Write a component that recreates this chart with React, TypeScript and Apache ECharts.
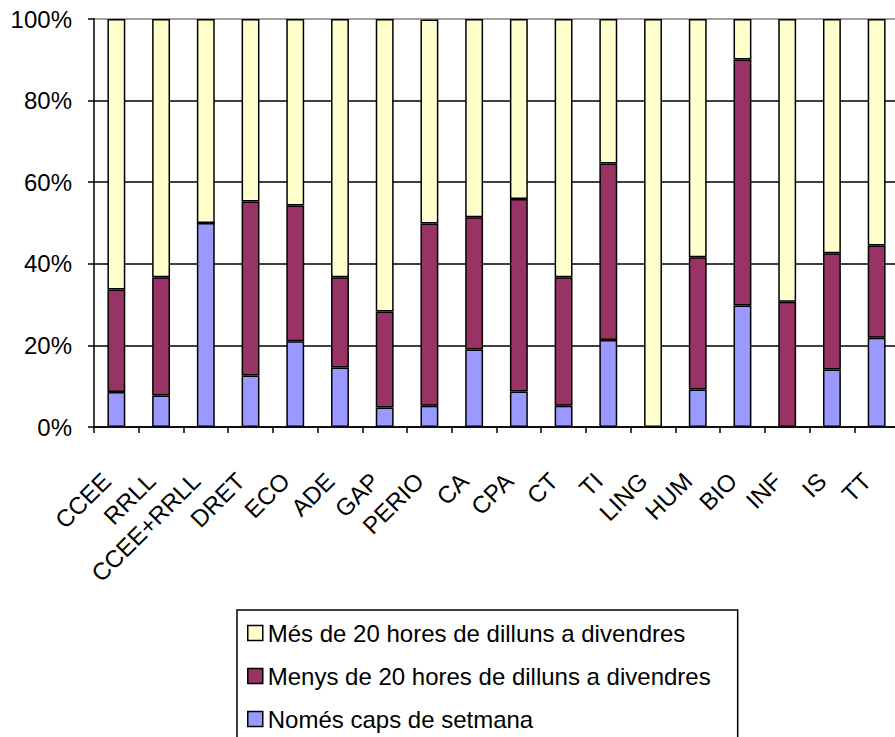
import React, { useEffect, useRef } from "react";
import * as echarts from "echarts";

const categories = ["CCEE", "RRLL", "CCEE+RRLL", "DRET", "ECO", "ADE", "GAP", "PERIO", "CA", "CPA", "CT", "TI", "LING", "HUM", "BIO", "INF", "IS", "TT"];
const nomesCaps = [8.6, 7.7, 50, 12.6, 21, 14.6, 4.8, 5.2, 19, 8.7, 5.2, 21.3, 0, 9.2, 29.8, 0, 14.1, 21.9];
const menys20 = [25.1, 29, 0, 42.7, 33.3, 22.1, 23.5, 44.7, 32.4, 47.2, 31.5, 43.3, 0, 32.4, 60.3, 30.7, 28.5, 22.6];
const mes20 = [66.3, 63.3, 50, 44.7, 45.7, 63.3, 71.7, 50, 48.6, 44.1, 63.3, 35.4, 100, 58.4, 9.9, 69.3, 57.4, 55.5];
const seriesNames = ["Només caps de setmana", "Menys de 20 hores de dilluns a divendres", "Més de 20 hores de dilluns a divendres"];
const yTicks = [0, 20, 40, 60, 80, 100];

const FONT = "'Liberation Sans', Arial, sans-serif";

export default function App() {
  const ref = useRef<HTMLDivElement>(null);
  useEffect(() => {
    if (!ref.current) return;
    const chart = echarts.init(ref.current, null, { renderer: "svg" });
    const barStyle = (color: string) => ({ color, borderColor: "#000", borderWidth: 1.5 });
    chart.setOption({
      animation: false,
      backgroundColor: "#fff",
      textStyle: { fontFamily: FONT, color: "#000" },
      grid: { left: 94, top: 19, width: 805, height: 408 },
      xAxis: {
        type: "category",
        data: categories,
        boundaryGap: true,
        axisLine: { lineStyle: { color: "#000", width: 1.5 } },
        axisTick: { show: true, length: 6, lineStyle: { color: "#000", width: 1.5 } },
        axisLabel: { rotate: 45, margin: 40, fontSize: 24, color: "#000", fontFamily: FONT, padding: [0, 14, 0, 0], interval: 0 },
      },
      yAxis: {
        type: "value",
        min: yTicks[0],
        max: yTicks[yTicks.length - 1],
        interval: 20,
        axisLine: { show: true, lineStyle: { color: "#000", width: 1.5 } },
        axisTick: { show: true, length: 6, lineStyle: { color: "#000", width: 1.5 } },
        axisLabel: { formatter: "{value}%", margin: 22, fontSize: 24, color: "#000", fontFamily: FONT },
        splitLine: { show: true, lineStyle: { color: ["#000", "#000", "#000", "#000", "#000", "#808080"], width: 1.5 } },
      },
      legend: {
        orient: "vertical",
        left: 237,
        top: 610,
        height: 200,
        data: [seriesNames[2], seriesNames[1], seriesNames[0]],
        borderColor: "#000",
        borderWidth: 1.5,
        padding: [11, 27, 40, 10],
        itemGap: 19,
        itemWidth: 15,
        itemHeight: 15,
        icon: "rect",
        itemStyle: { borderColor: "#000", borderWidth: 1.5 },
        textStyle: { fontSize: 24, lineHeight: 24, color: "#000", fontFamily: FONT },
      },
      series: [
        { name: seriesNames[0], type: "bar", stack: "total", data: nomesCaps, barWidth: "40%", itemStyle: barStyle("#9999FF") },
        { name: seriesNames[1], type: "bar", stack: "total", data: menys20, barWidth: "40%", itemStyle: barStyle("#993366") },
        { name: seriesNames[2], type: "bar", stack: "total", data: mes20, barWidth: "40%", itemStyle: barStyle("#FFFFCC") },
      ],
    });
    return () => chart.dispose();
  }, []);
  return (
    <div style={{ position: "fixed", left: 0, top: 0, width: 895, height: 737, overflow: "hidden", background: "#fff" }}>
      <div ref={ref} style={{ width: 905, height: 737 }} />
    </div>
  );
}
